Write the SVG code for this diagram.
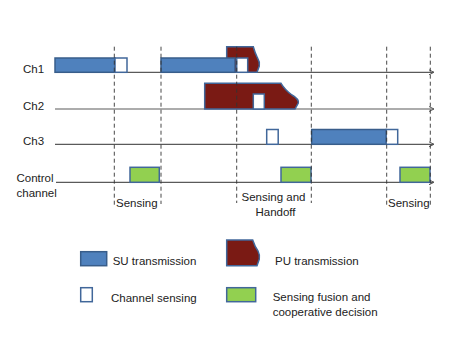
<svg xmlns="http://www.w3.org/2000/svg" width="463" height="348" viewBox="0 0 463 348">
<style>
text{font-family:"Liberation Sans",Arial,sans-serif;font-size:11.5px;fill:#222}
.axis{stroke:#5a5a5a;stroke-width:1.2;fill:none}
.dash{stroke:#333;stroke-width:0.9;stroke-dasharray:4,3;fill:none}
.su{fill:#4F81BD;stroke:#385D8A;stroke-width:1.5}
.pu{fill:#7A1A14;stroke:#41679A;stroke-width:1.5}
.cs{fill:#fff;stroke:#41679A;stroke-width:1.5}
.fu{fill:#92D050;stroke:#41679A;stroke-width:1.5}
</style>
<defs>
<marker id="arr" markerWidth="6" markerHeight="6" refX="5" refY="3" orient="auto" markerUnits="userSpaceOnUse">
<path d="M0,0.5 L5,3 L0,5.5" fill="none" stroke="#5a5a5a" stroke-width="1"/>
</marker>
</defs>
<g id="connectors">
<line class="axis" x1="55" y1="72.3" x2="434" y2="72.3" marker-end="url(#arr)"/>
<line class="axis" x1="55" y1="109" x2="434" y2="109" marker-end="url(#arr)"/>
<line class="axis" x1="55" y1="144.3" x2="434" y2="144.3" marker-end="url(#arr)"/>
<line class="axis" x1="56" y1="182.3" x2="434" y2="182.3" marker-end="url(#arr)"/>
</g>
<g id="labels">
<text x="23" y="72.5">Ch1</text>
<text x="23" y="109.5">Ch2</text>
<text x="23" y="144.5">Ch3</text>
<text x="16.5" y="182">Control</text>
<text x="16.5" y="197">channel</text>
</g>
<g id="ch1">
<path class="pu" d="M226.7,72.3 L226.7,46.7 L253.3,46.7 Q255,53 257.5,58 Q260,62 259.3,66 L257,72.3 Z"/>
<rect class="su" x="55" y="58" width="60" height="14.3"/>
<rect class="cs" x="115" y="58" width="12" height="14.3"/>
<rect class="su" x="161" y="58" width="74" height="14.3"/>
<rect class="cs" x="236.7" y="58" width="11" height="14.3"/>
</g>
<g id="ch2">
<path class="pu" d="M204.7,109 L204.7,83.3 L281,83.3 Q285,90 292,95 Q299,99 298.3,103 L295,109 Z"/>
<rect class="cs" x="253.3" y="94" width="11" height="15"/>
</g>
<g id="ch3">
<rect class="cs" x="266.7" y="129.5" width="11.5" height="14.8"/>
<rect class="su" x="311.7" y="129.5" width="74.5" height="14.8"/>
<rect class="cs" x="386.2" y="129.5" width="11.5" height="14.8"/>
</g>
<g id="control">
<rect class="fu" x="130" y="167.3" width="29.3" height="15"/>
<rect class="fu" x="281" y="167.3" width="30" height="15"/>
<rect class="fu" x="400" y="167.3" width="30" height="15"/>
</g>
<g id="dashes">
<line class="dash" x1="114.3" y1="46.7" x2="114.3" y2="207"/>
<line class="dash" x1="161" y1="46.7" x2="161" y2="204"/>
<line class="dash" x1="236.7" y1="46.7" x2="236.7" y2="203"/>
<line class="dash" x1="311.3" y1="46.7" x2="311.3" y2="203"/>
<line class="dash" x1="386.7" y1="46.7" x2="386.7" y2="207"/>
<line class="dash" x1="430.3" y1="46.7" x2="430.3" y2="205"/>
</g>
<g id="phase-labels">
<text x="116" y="206.5">Sensing</text>
<text x="273.5" y="200.5" text-anchor="middle">Sensing and</text>
<text x="275.5" y="215.5" text-anchor="middle">Handoff</text>
<text x="388" y="207">Sensing</text>
</g>
<g id="legend-su">
<rect class="su" x="80.7" y="251.7" width="26" height="14"/>
<text x="112.7" y="265">SU transmission</text>
</g>
<g id="legend-pu">
<path class="pu" d="M226.7,265.7 L226.7,240 L252.7,240 Q255,247 258,251 Q260,255 259.3,259 L257,265.7 Z"/>
<text x="275" y="265">PU transmission</text>
</g>
<g id="legend-cs">
<rect class="cs" x="80.7" y="287.7" width="11.6" height="14"/>
<text x="111" y="301.5">Channel sensing</text>
</g>
<g id="legend-fu">
<rect class="fu" x="226.7" y="287.7" width="29" height="14"/>
<text x="272.7" y="301">Sensing fusion and</text>
<text x="272.7" y="316">cooperative decision</text>
</g>
</svg>
